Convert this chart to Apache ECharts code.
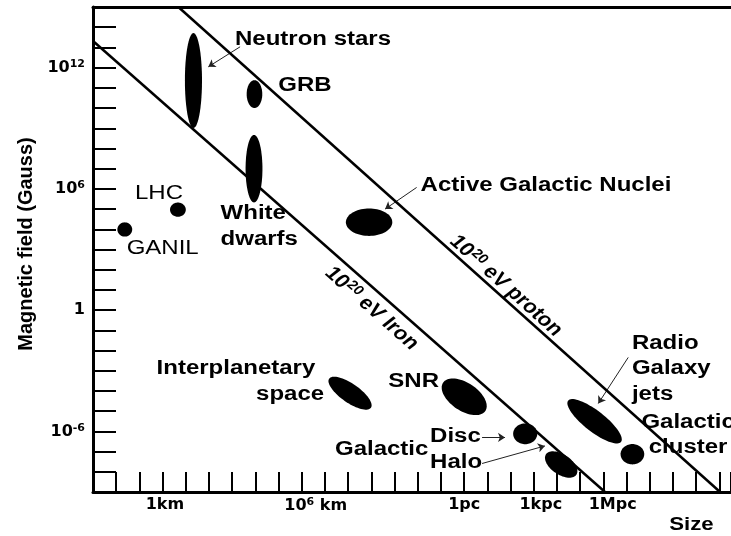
<!DOCTYPE html>
<html>
<head>
<meta charset="utf-8">
<script src="https://cdn.jsdelivr.net/npm/echarts@6/dist/echarts.min.js"></script>
<style>
  html, body { margin: 0; padding: 0; background: #fff; }
  #chart { width: 731px; height: 536px; }
</style>
</head>
<body>
<div id="chart"></div>
<script>
// Hillas plot: magnetic field vs. size of candidate cosmic-ray accelerators.
// x = size in decades (log scale), y = log10(B / Gauss).

// Axis tick labels
const sizeTickValues = [3.1, 9.6, 16.0, 19.3, 22.4];
const sizeTickLabels = ['1km', '10{sup|6} km', '1pc', '1kpc', '1Mpc'];
const fieldTickValues = [12, 6, 0, -6];
const fieldTickLabels = ['10{sup|12}', '10{sup|6}', '1', '10{sup|-6}'];

// Sources: centre of each region, half-extent of its long axis (decades), and minor/major ratio
const sources   = ['Neutron stars', 'GRB', 'White dwarfs', 'LHC', 'GANIL', 'Active Galactic Nuclei',
                   'Interplanetary space', 'SNR', 'Galactic disc', 'Galactic halo', 'Radio galaxy jets', 'Galactic cluster'];
const logSize   = [4.33, 6.96, 6.94, 3.66, 1.37, 11.90, 11.08, 16.00, 18.63, 20.18, 21.62, 23.25];
const logField  = [11.36, 10.69, 7.00, 4.97, 3.99, 4.35, -4.11, -4.29, -6.12, -7.64, -5.50, -7.13];
const halfSize  = [0, 0, 0, 0.34, 0.32, 1.00, 0.90, 0.91, 0.52, 0.655, 1.14, 0.51];
const halfField = [2.35, 0.69, 1.67, 0, 0, 0, -0.72, -0.70, 0, -0.505, -1.02, 0];
const axisRatio = [0.18, 0.56, 0.25, 0.90, 0.96, 0.59, 0.37, 0.55, 0.86, 0.55, 0.31, 0.86];

// Maximum-energy lines (B * L = const) for 10^20 eV iron and proton
const ironLine   = [[0, 13.32], [22.07, -9]];
const protonLine = [[3.68, 15], [27.03, -9]];

// Pointer arrows from labels to regions
const arrows = [
  [[6.34, 13.03], [4.97, 12.04]],    // Neutron stars
  [[13.95, 6.07], [12.59, 5.00]],    // Active Galactic Nuclei
  [[16.77, -6.30], [17.76, -6.30]],  // Disc
  [[16.77, -7.59], [19.48, -6.72]],  // Halo
  [[23.07, -2.34], [21.78, -4.62]]   // Radio galaxy jets
];

// Annotation layout (anchor in axis units)
const TEXT_STRETCH = 1.2;
const annotations = [
  { text: 'Neutron stars', x: 6.12, y: 13.41, align: 'left' },
  { text: 'GRB', x: 7.99, y: 11.10, align: 'left' },
  { text: 'White\ndwarfs', x: 5.50, y: 4.14, align: 'left' },
  { text: 'LHC', x: 1.81, y: 5.78, align: 'left', weight: 'normal' },
  { text: 'GANIL', x: 1.45, y: 3.05, align: 'left', weight: 'normal' },
  { text: 'Active Galactic Nuclei', x: 14.12, y: 6.15, align: 'left' },
  { text: 'Interplanetary', x: 2.74, y: -2.87, align: 'left' },
  { text: 'space', x: 7.03, y: -4.15, align: 'left' },
  { text: 'SNR', x: 12.73, y: -3.55, align: 'left' },
  { text: 'Galactic', x: 10.43, y: -6.88, align: 'left' },
  { text: 'Disc', x: 14.53, y: -6.27, align: 'left' },
  { text: 'Halo', x: 14.53, y: -7.52, align: 'left' },
  { text: 'Radio\nGalaxy\njets', x: 23.23, y: -2.89, align: 'left' },
  { text: 'Galactic\ncluster', x: 25.65, y: -6.18, align: 'center' },
  { text: 'Size', x: 24.84, y: -10.64, align: 'left', size: 18.5 }
];
const lineLabels = [
  { text: '10{sup|20} eV Iron', x: 12.01, y: 0.08, line: ironLine },
  { text: '10{sup|20} eV proton', x: 17.80, y: 1.20, line: protonLine }
];

const FONT = '"Liberation Sans", Arial, Helvetica, sans-serif';
const TICK_FONT = '"DejaVu Sans", "Liberation Sans", sans-serif';

function pickLabel(values, labels, v) {
  let best = 0;
  for (let i = 1; i < values.length; i++) {
    if (Math.abs(values[i] - v) < Math.abs(values[best] - v)) best = i;
  }
  return labels[best];
}

const tickRich = {
  sup: { fontSize: 11, fontWeight: 'bold', fontFamily: TICK_FONT, color: '#000', padding: [0, 0, 7, 0] }
};

const chart = echarts.init(document.getElementById('chart'), null, { renderer: 'canvas' });

chart.setOption({
  backgroundColor: '#fff',
  animation: false,
  grid: { left: 93, right: 0, top: 7, bottom: 44, containLabel: false },
  xAxis: [{
    type: 'value', min: 0, max: 27.5, interval: 1,
    axisLine: { onZero: false, lineStyle: { color: '#000', width: 3 } },
    axisTick: { inside: true, length: 20, lineStyle: { color: '#000', width: 2 } },
    splitLine: { show: false },
    axisLabel: {
      customValues: sizeTickValues,
      margin: 5,
      color: '#000', fontFamily: TICK_FONT, fontWeight: 'bold', fontSize: 16,
      formatter: v => pickLabel(sizeTickValues, sizeTickLabels, v),
      rich: tickRich
    }
  }, {
    type: 'value', position: 'top', min: 0, max: 27.5,
    axisLine: { onZero: false, lineStyle: { color: '#000', width: 3 } },
    axisTick: { show: false }, axisLabel: { show: false }, splitLine: { show: false }
  }],
  yAxis: {
    type: 'value', min: -9, max: 15, interval: 1,
    axisLine: { onZero: false, lineStyle: { color: '#000', width: 3 } },
    axisTick: { inside: true, length: 23, lineStyle: { color: '#000', width: 2 } },
    splitLine: { show: false },
    axisLabel: {
      customValues: fieldTickValues,
      margin: 8,
      color: '#000', fontFamily: TICK_FONT, fontWeight: 'bold', fontSize: 16,
      formatter: v => pickLabel(fieldTickValues, fieldTickLabels, v),
      rich: tickRich
    },
    name: 'Magnetic field (Gauss)', nameLocation: 'middle', nameGap: 56,
    nameTextStyle: { color: '#000', fontFamily: FONT, fontWeight: 'bold', fontSize: 20, padding: [0, 0, 0, 11] }
  },
  series: [
    {
      type: 'line', name: 'iron', data: ironLine, symbol: 'none', silent: true,
      lineStyle: { color: '#000', width: 2.5 }
    },
    {
      type: 'line', name: 'proton', data: protonLine, symbol: 'none', silent: true,
      lineStyle: { color: '#000', width: 2.5 }
    },
    {
      type: 'custom', name: 'sources',
      data: sources.map((s, i) => [logSize[i], logField[i], halfSize[i], halfField[i], axisRatio[i]]),
      encode: { x: 0, y: 1 },
      renderItem(params, api) {
        const cx = api.value(0), cy = api.value(1);
        const c = api.coord([cx, cy]);
        const e = api.coord([cx + api.value(2), cy + api.value(3)]);
        const ux = e[0] - c[0], uy = e[1] - c[1];
        const r = api.value(4);
        const vx = -uy * r, vy = ux * r;
        const pts = [];
        const n = 72;
        for (let k = 0; k < n; k++) {
          const t = (k / n) * Math.PI * 2;
          const ct = Math.cos(t), st = Math.sin(t);
          pts.push([c[0] + ux * ct + vx * st, c[1] + uy * ct + vy * st]);
        }
        return { type: 'polygon', shape: { points: pts }, style: { fill: '#000' } };
      }
    },
    {
      type: 'lines', coordinateSystem: 'cartesian2d', silent: true,
      symbol: ['none', 'arrow'], symbolSize: 7,
      lineStyle: { color: '#222', width: 1, opacity: 1 },
      data: arrows.map(a => ({ coords: a }))
    },
    {
      type: 'custom', name: 'labels', clip: false, silent: true,
      data: annotations.map(a => [a.x, a.y]),
      encode: { x: 0, y: 1 },
      renderItem(params, api) {
        const a = annotations[params.dataIndex];
        const p = api.coord([api.value(0), api.value(1)]);
        const lines = a.text.split('\n').length;
        const size = a.size || 20;
        return {
          type: 'group', x: p[0], y: p[1], scaleX: TEXT_STRETCH,
          children: [{
            type: 'text',
            style: {
              text: a.text, fill: '#000',
              fontFamily: FONT, fontWeight: a.weight || 'bold', fontSize: size,
              lineHeight: lines > 1 ? 25.5 : size,
              align: a.align, verticalAlign: 'middle'
            }
          }]
        };
      }
    },
    {
      type: 'custom', name: 'line labels', clip: false, silent: true,
      data: lineLabels.map(a => [a.x, a.y]),
      encode: { x: 0, y: 1 },
      renderItem(params, api) {
        const a = lineLabels[params.dataIndex];
        const p = api.coord([api.value(0), api.value(1)]);
        const p1 = api.coord(a.line[0]), p2 = api.coord(a.line[1]);
        const ang = Math.atan2(p2[1] - p1[1], (p2[0] - p1[0]) / TEXT_STRETCH);
        return {
          type: 'group', x: p[0], y: p[1], scaleX: TEXT_STRETCH,
          children: [{
            type: 'text', rotation: -ang,
            style: {
              text: a.text, fill: '#000',
              fontFamily: FONT, fontWeight: 'bold', fontSize: 19,
              align: 'center', verticalAlign: 'middle',
              rich: {
                sup: { fontFamily: FONT, fontWeight: 'bold', fontSize: 13, fill: '#000', padding: [0, 0, 8, 0] }
              }
            }
          }]
        };
      }
    }
  ]
});
</script>
</body>
</html>
